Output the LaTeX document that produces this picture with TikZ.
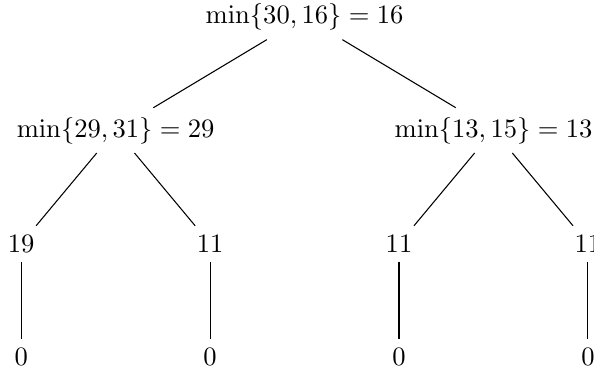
\documentclass[tikz,border=0pt]{standalone}
\usepackage{tikz}

\begin{document}
\begin{tikzpicture}[
  val/.style ={inner sep=0.333em},
  edge/.style={draw=black, line width=0.4pt}]

  \useasboundingbox (-4.03,-4.68) rectangle (3.83,0.225);

  % ---------------- root ----------------
  \node[val] (root) at (0,0) {$\min\{30, 16\} = 16$};

  % ---------------- second level ----------------
  \node[val] (L) at (-2.5,-1.5) {$\min\{29, 31\} = 29$};
  \node[val] (R) at ( 2.5,-1.5) {$\min\{13, 15\} = 13$};

  % ---------------- third level ----------------
  \node[val] (LL) at (-3.75,-3) {$19$};
  \node[val] (LR) at (-1.25,-3) {$11$};
  \node[val] (RL) at ( 1.25,-3) {$11$};
  \node[val] (RR) at ( 3.75,-3) {$11$};

  % ---------------- leaves ----------------
  \node[val] (LLz) at (-3.75,-4.5) {$0$};
  \node[val] (LRz) at (-1.25,-4.5) {$0$};
  \node[val] (RLz) at ( 1.25,-4.5) {$0$};
  \node[val] (RRz) at ( 3.75,-4.5) {$0$};

  % ---------------- edges ----------------
  \draw[edge] (root) -- (L);  \draw[edge] (root) -- (R);
  \draw[edge] (L) -- (LL);    \draw[edge] (L) -- (LR);
  \draw[edge] (R) -- (RL);    \draw[edge] (R) -- (RR);
  \draw[edge] (LL) -- (LLz);  \draw[edge] (LR) -- (LRz);
  \draw[edge] (RL) -- (RLz);  \draw[edge] (RR) -- (RRz);
\end{tikzpicture}
\end{document}
